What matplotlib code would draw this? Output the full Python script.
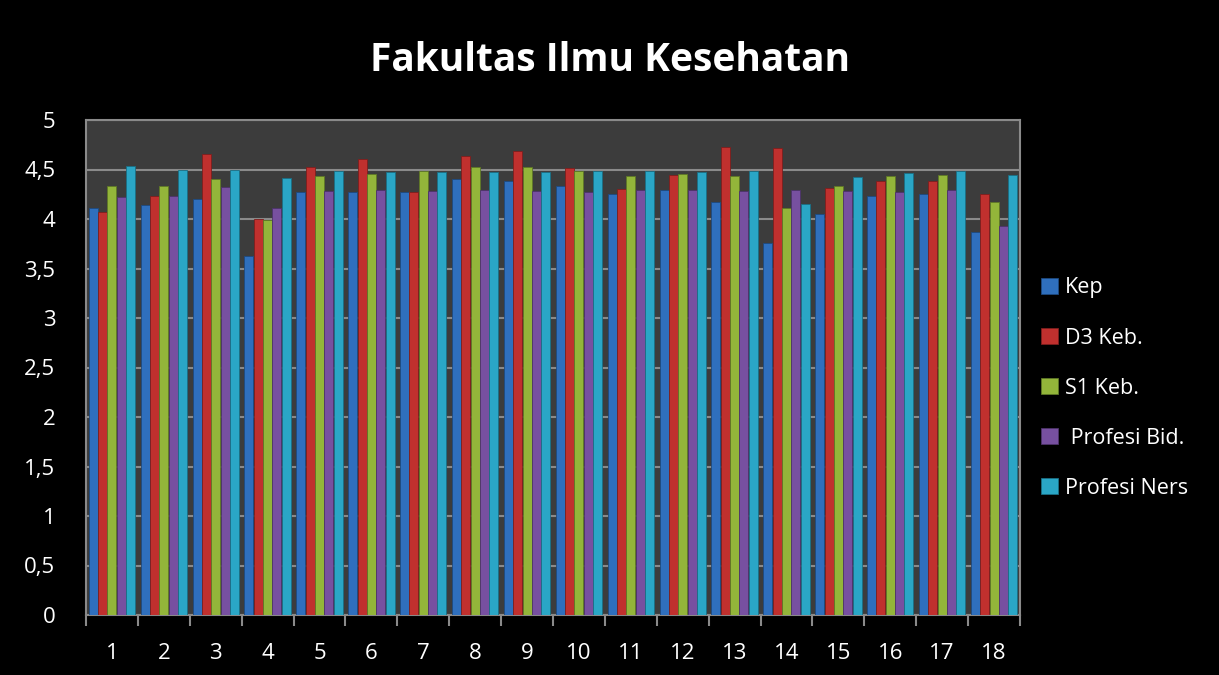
import numpy as np
from matplotlib import pyplot as plt
from matplotlib.ticker import FuncFormatter

groups = [str(i) for i in range(1, 19)]
series = ['Kep', 'D3 Keb.', 'S1 Keb.', ' Profesi Bid.', 'Profesi Ners']

kep = [4.11, 4.14, 4.20, 3.63, 4.27, 4.27, 4.27, 4.40, 4.38, 4.33, 4.25, 4.29, 4.17, 3.76, 4.05, 4.23, 4.25, 3.87]
d3_keb = [4.07, 4.23, 4.66, 4.00, 4.53, 4.61, 4.27, 4.64, 4.69, 4.52, 4.30, 4.44, 4.73, 4.72, 4.31, 4.38, 4.38, 4.25]
s1_keb = [4.33, 4.33, 4.40, 3.99, 4.43, 4.45, 4.48, 4.53, 4.53, 4.48, 4.43, 4.45, 4.43, 4.11, 4.33, 4.43, 4.44, 4.17]
profesi_bid = [4.22, 4.23, 4.32, 4.11, 4.28, 4.29, 4.28, 4.29, 4.28, 4.27, 4.29, 4.29, 4.28, 4.29, 4.28, 4.27, 4.29, 3.93]
profesi_ners = [4.54, 4.49, 4.49, 4.41, 4.48, 4.47, 4.47, 4.47, 4.47, 4.48, 4.48, 4.47, 4.48, 4.15, 4.42, 4.46, 4.48, 4.44]

colors = ['#2f6fbd', '#c0302e', '#93b53a', '#7750a0', '#2aa6c6']
edges = ['#1d4a80', '#7e1e1d', '#5f7826', '#4d336a', '#1a6f85']

plt.rcParams['font.family'] = ['Open Sans', 'DejaVu Sans']

fig = plt.figure(figsize=(12.19, 6.75), dpi=100, facecolor='black')
ax = fig.add_axes([86 / 1219, 60 / 675, 934 / 1219, 495 / 675])
ax.set_facecolor('#3c3c3c')

x = np.arange(1, len(groups) + 1)
w = 0.18
data = [kep, d3_keb, s1_keb, profesi_bid, profesi_ners]
for i, (vals, name) in enumerate(zip(data, series)):
    ax.bar(x + (i - 2) * w, vals, width=w * 0.97, color=colors[i],
           edgecolor=edges[i], linewidth=0.6, label=name, zorder=3)

ax.set_xlim(0.5, len(groups) + 0.5)
ax.set_ylim(0, 5)
ax.set_yticks(np.arange(0, 5.01, 0.5))
ax.yaxis.set_major_formatter(FuncFormatter(lambda v, p: ('%g' % v).replace('.', ',')))
ax.grid(axis='y', color='#8a8a8a', linewidth=1.5, zorder=1)
ax.set_axisbelow(True)

ax.set_xticks(x)
ax.set_xticklabels(groups)
ax.set_xticks(np.arange(0.5, len(groups) + 1, 1), minor=True)
ax.tick_params(axis='x', which='major', length=0, pad=20, labelsize=16, labelcolor='white')
ax.tick_params(axis='x', which='minor', length=8, width=1.5, color='#8a8a8a', direction='out')
ax.tick_params(axis='y', length=0, pad=22, labelsize=16, labelcolor='white')

for s in ax.spines.values():
    s.set_color('#8a8a8a')
    s.set_linewidth(1.5)

fig.text(0.5, 0.91, 'Fakultas Ilmu Kesehatan', color='white', fontsize=28,
         fontweight='bold', ha='center', va='center')

leg = fig.legend(loc='center left', bbox_to_anchor=(1022 / 1219, 0.425), frameon=False,
                 fontsize=15.5, labelcolor='white', handlelength=0.75, handleheight=0.75,
                 handletextpad=0.35, labelspacing=1.35)

fig.savefig('out.png', dpi=100, facecolor='black')
